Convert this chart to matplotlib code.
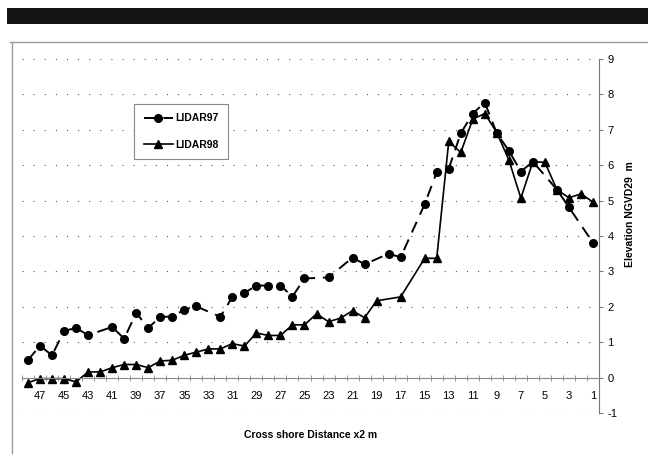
import numpy as np
import matplotlib
matplotlib.use("Agg")
import matplotlib.pyplot as plt
from matplotlib.patches import Rectangle
from matplotlib.lines import Line2D

plt.rcParams['font.family'] = ['Liberation Sans', 'DejaVu Sans']

# LIDAR97 survey (some stations missing)
x97 = [48, 47, 46, 45, 44, 43, 41, 40, 39, 38, 37, 36, 35, 34, 32, 31, 30, 29,
       28, 27, 26, 25, 23, 21, 20, 18, 17, 15, 14, 13, 12, 11, 10, 9, 8, 7, 6,
       4, 3, 1]
z97 = [0.50, 0.90, 0.63, 1.32, 1.40, 1.20, 1.43, 1.10, 1.83, 1.40, 1.72, 1.72,
       1.92, 2.01, 1.72, 2.28, 2.39, 2.60, 2.60, 2.60, 2.29, 2.80, 2.83, 3.39,
       3.20, 3.50, 3.40, 4.90, 5.80, 5.90, 6.90, 7.46, 7.77, 6.90, 6.41, 5.82,
       6.10, 5.31, 4.81, 3.81]

# LIDAR98 survey
x98 = [48, 47, 46, 45, 44, 43, 42, 41, 40, 39, 38, 37, 36, 35, 34, 33, 32, 31,
       30, 29, 28, 27, 26, 25, 24, 23, 22, 21, 20, 19, 17, 15, 14, 13, 12, 11,
       10, 9, 8, 7, 6, 5, 4, 3, 2, 1]
z98 = [-0.14, -0.03, -0.03, -0.03, -0.12, 0.16, 0.16, 0.28, 0.37, 0.37, 0.28,
       0.47, 0.49, 0.63, 0.72, 0.81, 0.81, 0.96, 0.89, 1.26, 1.19, 1.19, 1.49,
       1.49, 1.80, 1.58, 1.68, 1.89, 1.69, 2.17, 2.28, 3.37, 3.37, 6.67, 6.36,
       7.30, 7.46, 6.92, 6.15, 5.07, 6.10, 6.08, 5.31, 5.08, 5.19, 4.96]

xticks = list(range(47, 0, -2))
yticks = list(range(-1, 10))

fig = plt.figure(figsize=(6.48, 4.54), dpi=100)

# black band at the top and the chart frame
fig.patches.append(Rectangle((7 / 648, 0.947), 1, 0.035, transform=fig.transFigure,
                             facecolor='#151515', edgecolor='none'))
fig.lines.append(Line2D([10 / 648, 1], [0.9075, 0.9075], transform=fig.transFigure,
                        color='#999999', lw=1.0))
fig.lines.append(Line2D([0.0185, 0.0185], [0.0, 0.9075], transform=fig.transFigure,
                        color='#999999', lw=1.0))

ax = fig.add_axes([22 / 648, 41 / 454, 577 / 648, 354 / 454])

ax.plot(x97, z97, color='black', lw=1.4, linestyle=(0, (6, 4)),
        marker='o', markersize=5.5, label='LIDAR97')
ax.plot(x98, z98, color='black', lw=1.2, linestyle='-',
        marker='^', markersize=6, label='LIDAR98')

ax.set_xlim(48.5, 0.5)
ax.set_ylim(-1, 9)

# dotted gridlines
for y in yticks:
    ax.axhline(y, color='#555555', lw=0.8, linestyle=(0, (1, 9)), zorder=0)

for s in ['left', 'top']:
    ax.spines[s].set_visible(False)
ax.spines['bottom'].set_position(('data', 0))
ax.spines['bottom'].set_color('#888888')
ax.spines['right'].set_color('#777777')

ax.yaxis.tick_right()
ax.set_yticks(yticks)
ax.set_yticklabels([str(v) for v in yticks])
ax.tick_params(axis='y', direction='out', length=3, pad=3, labelsize=8,
               color='#777777')

ax.set_xticks(xticks)
ax.set_xticklabels([str(v) for v in xticks])
ax.set_xticks(np.arange(48.5, 0, -1), minor=True)
ax.tick_params(axis='x', which='major', length=0, pad=10, labelsize=8)
ax.tick_params(axis='x', which='minor', direction='inout', length=4,
               color='#888888')

fig.text(0.479, 0.042, 'Cross shore Distance x2 m', ha='center', va='center',
         fontsize=7.5, fontweight='bold')
fig.text(0.972, 0.529, 'Elevation NGVD29  m', ha='center', va='center',
         rotation=90, fontsize=7.5, fontweight='bold')

leg = ax.legend(loc='upper left', bbox_to_anchor=(0.207, 0.771),
                bbox_transform=fig.transFigure, fancybox=False,
                edgecolor='#888888', framealpha=1, labelspacing=1.6,
                handlelength=2.8, handletextpad=0.2, borderpad=0.9,
                borderaxespad=0, prop={'size': 7.5, 'weight': 'bold'})
leg.get_frame().set_linewidth(0.8)

fig.savefig('out.png', dpi=100)
